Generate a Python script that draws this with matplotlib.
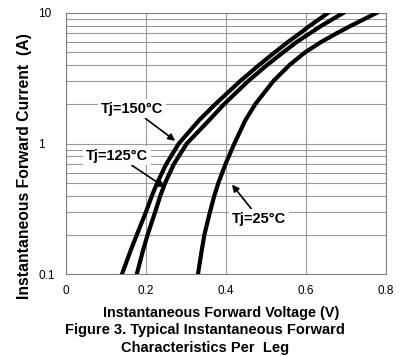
import numpy as np
import matplotlib.pyplot as plt
from matplotlib.ticker import FixedLocator, LogLocator, NullFormatter

plt.rcParams['font.family'] = ['Liberation Sans', 'DejaVu Sans']

# forward current (A) and voltage (V)
current = [0.1, 0.15, 0.2, 0.3, 0.4, 0.5, 0.7, 1.0, 1.5, 2, 3, 4, 5, 6, 7, 8, 10]
vf_150 = [0.140, 0.161, 0.177, 0.200, 0.215, 0.228, 0.251, 0.282, 0.332,
          0.373, 0.435, 0.483, 0.522, 0.555, 0.585, 0.610, 0.655]
vf_125 = [0.177, 0.192, 0.204, 0.223, 0.236, 0.248, 0.270, 0.302, 0.357,
          0.395, 0.455, 0.503, 0.543, 0.577, 0.610, 0.639, 0.693]
vf_25 = [0.330, 0.339, 0.346, 0.360, 0.371, 0.381, 0.399, 0.421, 0.448,
         0.473, 0.518, 0.559, 0.598, 0.638, 0.677, 0.713, 0.776]

x_ticks = [0, 0.2, 0.4, 0.6, 0.8]
x_labels = ['0', '0.2', '0.4', '0.6', '0.8']
y_ticks = [0.1, 1, 10]
y_labels = ['0.1', '1', '10']

fig = plt.figure(figsize=(4.05, 3.56), dpi=100)
ax = fig.add_axes([0.163, 0.230, 0.790, 0.7335])

for vf in (vf_150, vf_125, vf_25):
    ax.plot(vf, current, color='black', lw=3, solid_joinstyle='round', zorder=3)

ax.set_yscale('log')
ax.set_xlim(0, 0.8)
ax.set_ylim(0.1, 10)
ax.set_xticks(x_ticks)
ax.set_xticklabels(x_labels)
ax.set_yticks(y_ticks)
ax.set_yticklabels(y_labels, ha='left')
ax.yaxis.set_minor_locator(LogLocator(base=10, subs=np.arange(2, 10)))
ax.yaxis.set_minor_formatter(NullFormatter())
ax.tick_params(which='both', length=0, labelsize=8.5)
ax.tick_params(axis='x', pad=8)
ax.tick_params(axis='y', pad=20)

ax.grid(True, which='both', axis='y', color='#9a9a9a', lw=0.8)
ax.xaxis.set_minor_locator(FixedLocator([]))
ax.grid(True, which='major', axis='x', color='#9a9a9a', lw=0.8)
for s in ax.spines.values():
    s.set_color('#808080')
    s.set_linewidth(0.8)

box = dict(facecolor='white', edgecolor='none', pad=2)
arrow = dict(arrowstyle='-|>', color='black', lw=1.2, mutation_scale=10,
             shrinkA=0, shrinkB=0)
ax.annotate('Tj=150°C', xy=(0.273, 1.05), xytext=(0.166, 1.85),
            fontsize=10.5, fontweight='bold', ha='center', va='center',
            bbox=box, arrowprops=arrow, zorder=4)
ax.annotate('Tj=125°C', xy=(0.248, 0.46), xytext=(0.128, 0.81),
            fontsize=10.5, fontweight='bold', ha='center', va='center',
            bbox=box, arrowprops=arrow, zorder=4)
ax.annotate('Tj=25°C', xy=(0.415, 0.485), xytext=(0.483, 0.266),
            fontsize=10.5, fontweight='bold', ha='center', va='center',
            bbox=box, arrowprops=arrow, zorder=4)

fig.text(25 / 405, 1 - 166 / 356, 'Instantaneous Forward Current  (A)',
         rotation=90, ha='center', va='center', fontsize=11.3,
         fontweight='bold')
fig.text(221 / 405, 1 - 313 / 356, 'Instantaneous Forward Voltage (V)',
         ha='center', va='center', fontsize=10.4, fontweight='bold')
fig.text(205 / 405, 1 - 330 / 356, 'Figure 3. Typical Instantaneous Forward',
         ha='center', va='center', fontsize=10.5, fontweight='bold')
fig.text(205 / 405, 1 - 348 / 356, 'Characteristics Per  Leg',
         ha='center', va='center', fontsize=10.5, fontweight='bold')

fig.savefig('out.png', dpi=100)
